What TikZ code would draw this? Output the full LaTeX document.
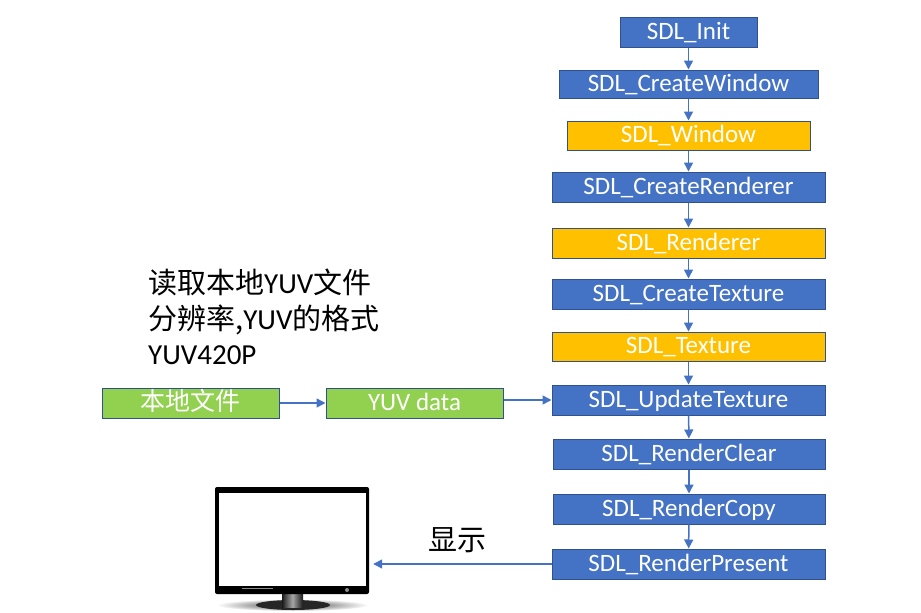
\documentclass[tikz,border=0pt]{standalone}
\usepackage{fontspec}
\setmainfont{Carlito}
\newfontfamily\cjk{Noto Sans CJK SC}
\usetikzlibrary{arrows.meta}
\definecolor{sdlblue}{HTML}{4472C4}
\definecolor{sdlline}{HTML}{2F528F}
\definecolor{sdlgold}{HTML}{FFC000}
\definecolor{sdlgreen}{HTML}{92D050}
\tikzset{
    sdlbox/.style={draw=sdlline, fill=sdlblue, line width=1pt, text=white, inner sep=0pt,
        font=\fontsize{25}{25}\selectfont, text height=17pt, text depth=3pt},
    goldbox/.style={sdlbox, fill=sdlgold},
    greenbox/.style={sdlbox, fill=sdlgreen},
    flow/.style={draw=sdlblue, line width=1.5pt, -{Triangle[length=9pt, width=9pt]}},
    note/.style={anchor=west, inner sep=0pt, font=\fontsize{29}{29}\selectfont}
}
\begin{document}
\begin{tikzpicture}[x=1pt, y=-1pt]
    \useasboundingbox (0, 0) rectangle (921, 613);

    % SDL calls
    \node[sdlbox, minimum width=137pt, minimum height=30pt] (init) at (688.5, 32) {SDL\_Init};
    \node[sdlbox, minimum width=259pt, minimum height=28pt] (createwindow) at (688.5, 84) {SDL\_CreateWindow};
    \node[goldbox, minimum width=243pt, minimum height=29pt] (window) at (688.5, 135.5) {SDL\_Window};
    \node[sdlbox, minimum width=273pt, minimum height=30pt] (createrenderer) at (688.5, 187) {SDL\_CreateRenderer};
    \node[goldbox, minimum width=273pt, minimum height=30pt] (renderer) at (688.5, 243) {SDL\_Renderer};
    \node[sdlbox, minimum width=273pt, minimum height=30pt] (createtexture) at (688.5, 294) {SDL\_CreateTexture};
    \node[goldbox, minimum width=273pt, minimum height=29pt] (texture) at (688.5, 346.5) {SDL\_Texture};
    \node[sdlbox, minimum width=273pt, minimum height=30pt] (update) at (688.5, 400) {SDL\_UpdateTexture};
    \node[sdlbox, minimum width=272pt, minimum height=30pt] (clear) at (689, 454) {SDL\_RenderClear};
    \node[sdlbox, minimum width=272pt, minimum height=30pt] (copy) at (689, 509) {SDL\_RenderCopy};
    \node[sdlbox, minimum width=273pt, minimum height=30pt] (present) at (688.5, 564) {SDL\_RenderPresent};

    % Local file side
    \node[greenbox, minimum width=177pt, minimum height=30pt] (file) at (190.5, 403) {\cjk 本地文件};
    \node[greenbox, minimum width=177pt, minimum height=30pt] (yuv) at (414.5, 403) {YUV data};

    % Notes
    \node[note] (line1) at (148, 282) {\cjk 读取本地\normalfont YUV\cjk 文件};
    \node[note] (line2) at (148, 320) {\cjk 分辨率,\normalfont YUV\cjk 的格式};
    \node[note] (line3) at (148, 355) {YUV420P};
    \node[anchor=west, inner sep=0pt, font=\fontsize{29}{29}\selectfont\cjk] (show) at (428, 540) {显示};

    % Monitor
    \shade[inner color=black!75, outer color=white] (292.5, 605) ellipse (76 and 6);
    \fill[black!85] (293, 605) ellipse (37 and 5);
    \shade[left color=black!90, right color=black!90, middle color=black!35] (282, 592) rectangle (303, 607);
    \node[fill=black, rounded corners=2pt, minimum width=154pt, minimum height=107pt, inner sep=0pt] (monitor) at (292, 540.5) {};
    \fill[white] (219, 493) rectangle (366, 586);
    \draw[black!45, line width=1.5pt] (242, 588.5) -- (273, 588.5);
    \fill[black!45] (347, 590) circle (2);

    % Connectors
    \foreach \a/\b in {init/createwindow, createwindow/window, window/createrenderer, createrenderer/renderer,
        renderer/createtexture, createtexture/texture, texture/update, update/clear, clear/copy, copy/present}
        \draw[flow] (\a) -- (\b);
    \draw[flow] (file) -- (yuv);
    \draw[flow] (update.west -| yuv.east) -- (update.west);
    \draw[flow, shorten >=4pt] (present.west) -- (present.west -| monitor.east);
\end{tikzpicture}
\end{document}
